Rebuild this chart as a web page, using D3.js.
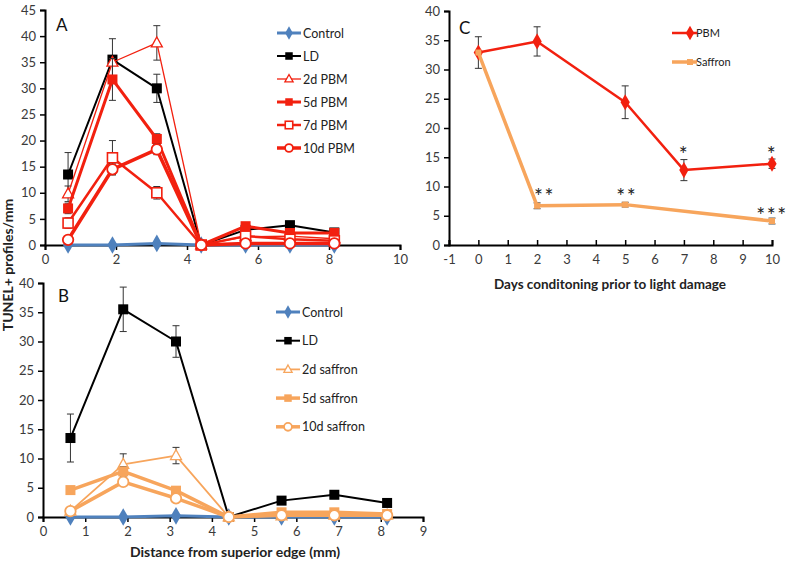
<!DOCTYPE html>
<html><head><meta charset="utf-8">
<script src="https://cdn.jsdelivr.net/npm/d3@7"></script>
<style>body{margin:0;background:#fff}svg{display:block}text{font-family:Lato,"Open Sans",sans-serif}</style>
</head><body><svg id="c" width="800" height="567"></svg>
<script>
// ---------- data ----------
const distX = [0.65, 1.9, 3.15, 4.4, 5.65, 6.9, 8.15];
const controlA = [0, 0, 0.3, 0, 0, 0, 0];
const ldA      = [13.5, 35.5, 30, 0, 2.9, 3.8, 2.4];
const ldErrA   = [4.2, 4, 2.7, 0, 0, 0, 0];
const pbm2d    = [9.8, 35, 38.7, 0, 1.6, 1.7, 1.2];
const pbm2dErr = [1.5, 0, 3.3, 0, 0, 0, 0];
const pbm5d    = [7, 31.7, 20.3, 0, 3.6, 2.3, 2.3];
const pbm5dErr = [1, 4, 1, 0, 0.5, 0.5, 0.5];
const pbm7d    = [4.2, 16.7, 10, 0, 1.7, 1.1, 0.8];
const pbm7dErr = [1, 3.3, 1.2, 0, 0, 0, 0];
const pbm10d   = [1, 14.5, 18.3, 0, 0.3, 0.3, 0.3];
const pbm10dErr= [0.5, 1, 1, 0, 0, 0, 0];

const controlB = [0, 0, 0.2, 0, 0, 0, 0];
const ldB      = [13.5, 35.5, 30, 0, 2.8, 3.8, 2.4];
const ldErrB   = [4.1, 3.8, 2.7, 0, 0.3, 0.3, 0.3];
const saf2d    = [1, 9, 10.5, 0, 0.2, 0.3, 0.3];
const saf2dErr = [0.3, 1.8, 1.4, 0, 0, 0, 0];
const saf5d    = [4.6, 7.8, 4.5, 0, 0.8, 0.8, 0.5];
const saf5dErr = [0.3, 0.8, 0.6, 0, 0, 0, 0];
const saf10d   = [1, 6, 3.2, 0, 0.3, 0.3, 0.3];
const saf10dErr= [0.3, 0.5, 0.4, 0, 0, 0, 0];

const pbmDays  = [0, 2, 5, 7, 10];
const pbmC     = [32.9, 34.8, 24.4, 12.8, 13.9];
const pbmCErr  = [2.7, 2.5, 2.8, 1.8, 0.8];
const safDays  = [0, 2, 5, 10];
const safC     = [32.9, 6.7, 6.9, 4.1];
const safCErr  = [0, 0.5, 0.4, 0.5];
const starsC   = [{x:2.25, y:9.1, t:"**"}, {x:5.05, y:9.1, t:"**"}, {x:10, y:5.8, t:"***"}, {x:7, y:16.2, t:"*"}, {x:10, y:16.2, t:"*"}];

const ticksAx = [0, 2, 4, 6, 8, 10];
const ticksAy = d3.range(0, 46, 5);
const ticksBx = d3.range(0, 10, 1);
const ticksBy = d3.range(0, 41, 5);
const ticksCx = d3.range(-1, 11, 1);
const ticksCy = d3.range(0, 41, 5);

// ---------- styles ----------
const BLUE = "#4f81bd", RED = "#f2200f", ORANGE = "#f7a55c", BLACK = "#000";
const svg = d3.select("#c");
const fmt = d => String(d);

function marker(g, type, x, y, color, size) {
  if (type === "diamond") {
    g.append("path").attr("d", d3.symbol(d3.symbolDiamond, size*size*0.75)()).attr("transform", `translate(${x},${y})`).attr("fill", color);
  } else if (type === "square" || type === "osquare") {
    g.append("rect").attr("x", x-size/2).attr("y", y-size/2).attr("width", size).attr("height", size)
      .attr("fill", type === "square" ? color : "#fff").attr("stroke", color).attr("stroke-width", type==="square"?0:1.6);
  } else if (type === "triangle") {
    const h = size*0.9;
    g.append("path").attr("d", `M${x},${y-h*0.6}L${x+size/2},${y+h*0.4}L${x-size/2},${y+h*0.4}Z`).attr("fill", "#fff").attr("stroke", color).attr("stroke-width", 1.3);
  } else if (type === "circle") {
    g.append("circle").attr("cx", x).attr("cy", y).attr("r", size/2).attr("fill", "#fff").attr("stroke", color).attr("stroke-width", 1.8);
  }
}

function panel(cfg) {
  const g = svg.append("g");
  const x = d3.scaleLinear().domain(cfg.xd).range(cfg.xr);
  const y = d3.scaleLinear().domain(cfg.yd).range(cfg.yr);
  const ya = d3.axisLeft(y).tickValues(cfg.yt).tickSize(5).tickFormat(fmt);
  const yg = g.append("g").attr("transform", `translate(${cfg.xr[0]},0)`).call(ya);
  yg.select(".domain").attr("stroke-width", 2);
  yg.selectAll(".tick line").attr("stroke-width", 1.5);
  yg.selectAll("text").attr("font-size", 13).attr("fill", "#3a3a3a").attr("dx", -1);
  const xa = d3.axisBottom(x).tickValues(cfg.xt).tickSize(cfg.tickUp ? -5 : 5).tickFormat(fmt);
  const xg = g.append("g").attr("transform", `translate(0,${y(0)})`).call(xa);
  xg.select(".domain").attr("stroke-width", 2);
  xg.selectAll(".tick line").attr("stroke-width", 1.5);
  xg.selectAll("text").attr("font-size", 13).attr("fill", "#3a3a3a").attr("y", 10);
  const line = d3.line();
  cfg.series.forEach(s => {
    const xs = s.x || cfg.sx;
    const pts = s.v.map((v, i) => [x(xs[i]), y(v)]);
    if (s.err) s.err.forEach((e, i) => {
      if (!e) return;
      const px = x(xs[i]), y1 = y(s.v[i] + e), y2 = y(Math.max(0, s.v[i] - e));
      g.append("line").attr("x1", px).attr("x2", px).attr("y1", y1).attr("y2", y2).attr("stroke", "#333").attr("stroke-width", 1);
      [y1, y2].forEach(yy => g.append("line").attr("x1", px-3.5).attr("x2", px+3.5).attr("y1", yy).attr("y2", yy).attr("stroke", "#333").attr("stroke-width", 1));
    });
    g.append("path").attr("d", line(pts)).attr("fill", "none").attr("stroke", s.c).attr("stroke-width", s.w).attr("stroke-linejoin", "round");
    pts.forEach(p => marker(g, s.m, p[0], p[1], s.c, s.ms));
  });
  if (cfg.legend) cfg.series.forEach((s, i) => {
    const ly = cfg.legend.y + i * cfg.legend.dy, lx = cfg.legend.x;
    g.append("line").attr("x1", lx).attr("x2", lx + 24).attr("y1", ly).attr("y2", ly).attr("stroke", s.c).attr("stroke-width", s.w);
    marker(g, s.m, lx + 12, ly, s.c, s.ms * 0.75);
    g.append("text").attr("x", lx + 26).attr("y", ly + 4.5).attr("font-size", cfg.legend.fs).attr("fill", "#222").text(s.name);
  });
  g.append("text").attr("x", cfg.letter[0]).attr("y", cfg.letter[1]).attr("font-size", 17).attr("fill", "#111").text(cfg.letterT);
  return {g, x, y};
}

panel({
  xd: [0, 10], xr: [45, 400], yd: [0, 45], yr: [245, 10], xt: ticksAx, yt: ticksAy, sx: distX,
  letter: [56, 31], letterT: "A",
  legend: {x: 277, y: 33, dy: 23, fs: 12.5},
  series: [
    {name: "Control", v: controlA, c: BLUE, w: 3, m: "diamond", ms: 11},
    {name: "LD", v: ldA, err: ldErrA, c: BLACK, w: 2, m: "square", ms: 10},
    {name: "2d PBM", v: pbm2d, err: pbm2dErr, c: RED, w: 1.3, m: "triangle", ms: 11},
    {name: "5d PBM", v: pbm5d, err: pbm5dErr, c: RED, w: 3, m: "square", ms: 10},
    {name: "7d PBM", v: pbm7d, err: pbm7dErr, c: RED, w: 2.5, m: "osquare", ms: 10},
    {name: "10d PBM", v: pbm10d, err: pbm10dErr, c: RED, w: 3.5, m: "circle", ms: 10.5}
  ]
});

panel({
  xd: [0, 9], xr: [43, 423], yd: [0, 40], yr: [517, 283], xt: ticksBx, yt: ticksBy, sx: distX,
  letter: [58, 302], letterT: "B",
  legend: {x: 276, y: 312, dy: 28.7, fs: 12.5},
  series: [
    {name: "Control", v: controlB, c: BLUE, w: 3, m: "diamond", ms: 11},
    {name: "LD", v: ldB, err: ldErrB, c: BLACK, w: 2, m: "square", ms: 10},
    {name: "2d saffron", v: saf2d, err: saf2dErr, c: ORANGE, w: 1.8, m: "triangle", ms: 11},
    {name: "5d saffron", v: saf5d, err: saf5dErr, c: ORANGE, w: 3.5, m: "square", ms: 10},
    {name: "10d saffron", v: saf10d, err: saf10dErr, c: ORANGE, w: 3.5, m: "circle", ms: 10.5}
  ]
});

const pc = panel({
  xd: [-1, 10], xr: [449, 772], yd: [0, 40], yr: [245, 11], xt: ticksCx, yt: ticksCy, tickUp: true,
  letter: [459, 34], letterT: "C",
  series: [
    {name: "PBM", x: pbmDays, v: pbmC, err: pbmCErr, c: RED, w: 2.5, m: "diamond", ms: 10},
    {name: "Saffron", x: safDays, v: safC, err: safCErr, c: ORANGE, w: 3.5, m: "square", ms: 6}
  ]
});
[{n: "PBM", c: RED, w: 2.5, m: "diamond", ms: 9, y: 33}, {n: "Saffron", c: ORANGE, w: 3.5, m: "square", ms: 6, y: 62}].forEach(s => {
  pc.g.append("line").attr("x1", 672).attr("x2", 697).attr("y1", s.y).attr("y2", s.y).attr("stroke", s.c).attr("stroke-width", s.w);
  marker(pc.g, s.m, 690, s.y, s.c, s.ms);
  pc.g.append("text").attr("x", 696).attr("y", s.y + 4).attr("font-size", 11).attr("fill", "#222").text(s.n);
});
starsC.forEach(s => pc.g.append("text").attr("x", pc.x(s.x)).attr("y", pc.y(s.y) + 12).attr("text-anchor", "middle")
  .attr("font-size", 21).attr("letter-spacing", 1.5).attr("fill", "#222").text(s.t));

svg.append("text").attr("x", 610).attr("y", 289).attr("text-anchor", "middle").attr("font-size", 13.5).attr("font-weight", "bold").attr("fill", "#222").text("Days conditoning prior to light damage");
svg.append("text").attr("x", 235).attr("y", 557).attr("text-anchor", "middle").attr("font-size", 14).attr("font-weight", "bold").attr("fill", "#222").text("Distance from superior edge (mm)");
svg.append("text").attr("transform", "translate(13,265) rotate(-90)").attr("text-anchor", "middle").attr("font-size", 14).attr("font-weight", "bold").attr("fill", "#222").text("TUNEL+  profiles/mm");
</script></body></html>
